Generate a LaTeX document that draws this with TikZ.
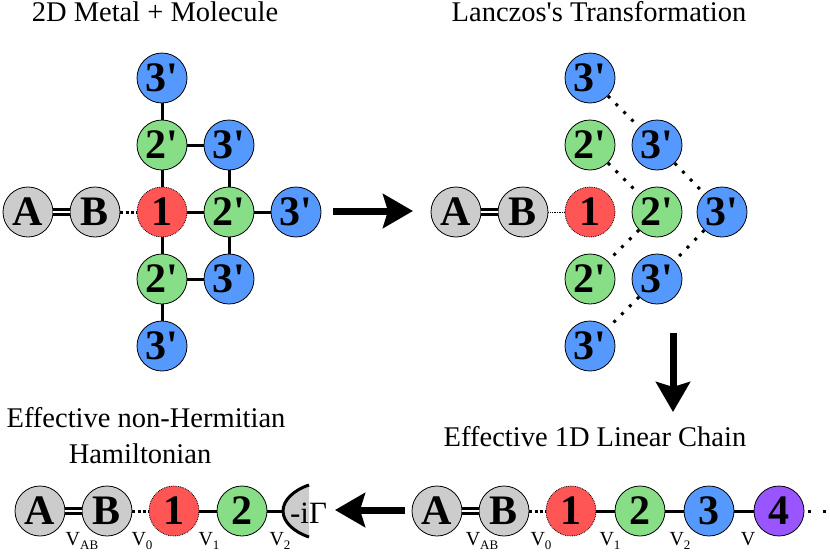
\documentclass[tikz,border=0pt]{standalone}
\usepackage{fontspec}
\setmainfont{Liberation Serif}
\usetikzlibrary{arrows.meta, positioning}

\definecolor{sitegrey}{HTML}{CCCCCC}
\definecolor{sitered}{HTML}{FF5555}
\definecolor{sitegreen}{HTML}{87DE87}
\definecolor{siteblue}{HTML}{5599FF}
\definecolor{sitepurple}{HTML}{9955FF}

\newcommand{\prm}{\textquotesingle}
\newcommand{\vsub}[1]{V\raisebox{-4pt}{\fontsize{13}{13}\selectfont #1}}

\begin{document}
\begin{tikzpicture}[x=1pt, y=-1pt, on grid, node distance=67pt,
  site/.style={draw, circle, line width=0.8pt, minimum size=50pt, inner sep=0pt,
    font=\bfseries\fontsize{42}{42}\selectfont},
  grey/.style={site, fill=sitegrey},
  red/.style={site, fill=sitered, densely dotted},
  green/.style={site, fill=sitegreen},
  blue/.style={site, fill=siteblue},
  purple/.style={site, fill=sitepurple},
  bond/.style={line width=3pt},
  dbond/.style={double, line width=2.8pt, double distance=2.4pt},
  dotbond/.style={line width=3pt, dash pattern=on 3pt off 2.2pt},
  sparse/.style={line width=3pt, dash pattern=on 3pt off 8pt},
  thindot/.style={line width=0.7pt, densely dotted},
  bigarrow/.style={line width=7pt, -{Stealth[length=30pt, width=34pt, inset=5pt]}},
  title/.style={font=\fontsize{28.5}{34}\selectfont, inner sep=0pt, anchor=base},
  vlab/.style={font=\fontsize{20}{20}\selectfont, inner sep=0pt, anchor=base}]
\useasboundingbox (0,0) rectangle (830,552);

% titles
\node[title] (t1) at (155,21) {2D Metal + Molecule};
\node[title] (t2) at (599,21) {Lanczos\prm s Transformation};
\node[title] (t3) at (595,446) {Effective 1D Linear Chain};
\node[title] (t4) at (146,427) {Effective non-Hermitian};
\node[title] (t5) at (140,463) {Hamiltonian};

% 2D metal + molecule
\node[grey] (A1) at (28,212) {A};
\node[grey, right=of A1] (B1) {B};
\node[red, right=of B1] (m1) {1};
\node[green, above=of m1] (m1u) {2\prm};
\node[blue, above=of m1u] (m1uu) {3\prm};
\node[green, below=of m1] (m1d) {2\prm};
\node[blue, below=of m1d] (m1dd) {3\prm};
\node[green, right=of m1] (m1r) {2\prm};
\node[blue, above=of m1r] (m1ru) {3\prm};
\node[blue, below=of m1r] (m1rd) {3\prm};
\node[blue, right=of m1r] (m1rr) {3\prm};

\draw[dbond] (A1) -- (B1);
\draw[dotbond] (B1) -- (m1);
\draw[bond] (m1) -- (m1u);
\draw[bond] (m1u) -- (m1uu);
\draw[bond] (m1) -- (m1d);
\draw[bond] (m1d) -- (m1dd);
\draw[bond] (m1) -- (m1r);
\draw[bond] (m1r) -- (m1rr);
\draw[bond] (m1r) -- (m1ru);
\draw[bond] (m1r) -- (m1rd);
\draw[bond] (m1u) -- (m1ru);
\draw[bond] (m1d) -- (m1rd);

% Lanczos's transformation
\node[grey] (A2) at (456,212) {A};
\node[grey, right=of A2] (B2) {B};
\node[red, right=of B2] (m2) {1};
\node[green, above=of m2] (m2u) {2\prm};
\node[blue, above=of m2u] (m2uu) {3\prm};
\node[green, below=of m2] (m2d) {2\prm};
\node[blue, below=of m2d] (m2dd) {3\prm};
\node[green, right=of m2] (m2r) {2\prm};
\node[blue, above=of m2r] (m2ru) {3\prm};
\node[blue, below=of m2r] (m2rd) {3\prm};
\node[blue, right=65pt of m2r] (m2rr) {3\prm};

\draw[dbond] (A2) -- (B2);
\draw[thindot] (B2) -- (m2);
\draw[sparse] (m2u) -- (m2r);
\draw[sparse] (m2r) -- (m2d);
\draw[sparse] (m2uu) -- (m2ru);
\draw[sparse] (m2ru) -- (m2rr);
\draw[sparse] (m2rr) -- (m2rd);
\draw[sparse] (m2rd) -- (m2dd);

% effective 1D linear chain
\node[grey] (A3) at (437,511) {A};
\node[grey, right=of A3] (B3) {B};
\node[red, right=of B3] (c1) {1};
\node[green, right=69pt of c1] (c2) {2};
\node[blue, right=69pt of c2] (c3) {3};
\node[purple, right=70pt of c3] (c4) {4};
\coordinate (cend) at (830,511);

\draw[dbond] (A3) -- (B3);
\draw[dotbond] (B3) -- (c1);
\draw[bond] (c1) -- (c2);
\draw[bond] (c2) -- (c3);
\draw[bond] (c3) -- (c4);
\draw[line width=3pt, dash pattern=on 3pt off 12pt, dash phase=-4pt] (c4) -- (cend);

\node[vlab] (v3ab) at (482,545) {\vsub{AB}};
\node[vlab] (v30) at (541,545) {\vsub{0}};
\node[vlab] (v31) at (610,545) {\vsub{1}};
\node[vlab] (v32) at (680,545) {\vsub{2}};
\node[vlab] (v3) at (748,545) {V};

% effective non-Hermitian Hamiltonian
\node[grey] (A4) at (40,511) {A};
\node[grey, right=of A4] (B4) {B};
\node[red, right=of B4] (h1) {1};
\node[green, right=68pt of h1] (h2) {2};
\coordinate (sink) at (283,511);

\fill[sitegrey] (309,485) .. controls (294,490) and (283,500) .. (sink)
  .. controls (283,522) and (294,532) .. (309,537) -- cycle;
\draw[line width=3pt] (309,485) .. controls (294,490) and (283,500) .. (sink)
  .. controls (283,522) and (294,532) .. (309,537);
\node[title, font=\fontsize{31}{34}\selectfont] (gam) at (308.5,523) {-iΓ};

\draw[dbond] (A4) -- (B4);
\draw[dotbond] (B4) -- (h1);
\draw[bond] (h1) -- (h2);
\draw[bond] (h2) -- (sink);

\node[vlab] (v4ab) at (82,545) {\vsub{AB}};
\node[vlab] (v40) at (142,545) {\vsub{0}};
\node[vlab] (v41) at (209,545) {\vsub{1}};
\node[vlab] (v42) at (280,545) {\vsub{2}};

% arrows between the stages
\coordinate (a1s) at (333,211);
\coordinate (a1e) at (413,211);
\coordinate (a2s) at (673,333);
\coordinate (a2e) at (673,412);
\coordinate (a3s) at (405,510);
\coordinate (a3e) at (335,510);
\draw[bigarrow] (a1s) -- (a1e);
\draw[bigarrow] (a2s) -- (a2e);
\draw[bigarrow] (a3s) -- (a3e);
\end{tikzpicture}
\end{document}
